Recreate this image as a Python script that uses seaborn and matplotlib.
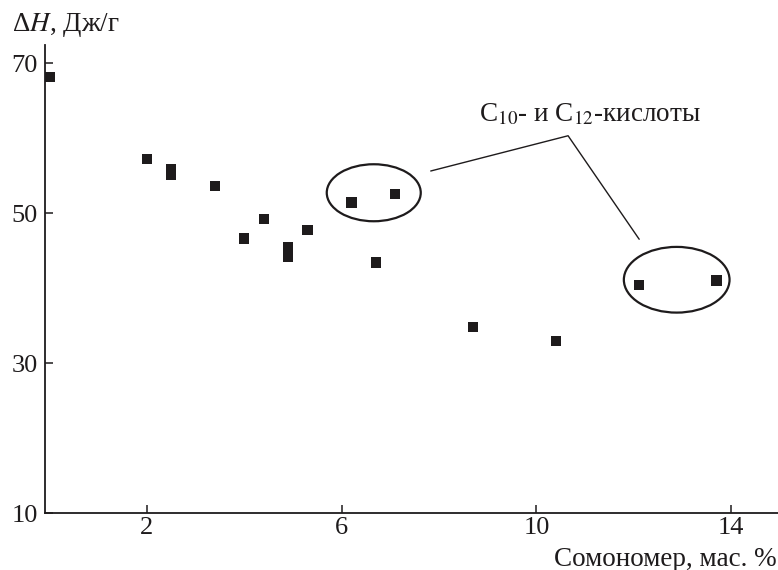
import matplotlib
matplotlib.use("Agg")
import matplotlib.pyplot as plt
import seaborn as sns
import pandas as pd
from matplotlib.patches import Ellipse

# data
comonomer = [0.0, 2.0, 2.5, 2.5, 3.4, 4.0, 4.4, 4.9, 4.9, 5.3, 6.2, 7.1, 6.7, 8.7, 10.4, 12.1, 13.7]
delta_h = [68.1, 57.2, 55.9, 55.1, 53.6, 46.6, 49.2, 45.5, 44.2, 47.7, 51.4, 52.5, 43.4, 34.8, 32.9, 40.4, 41.0]
x_ticks = [2, 6, 10, 14]
y_ticks = [10, 30, 50, 70]
annotation = "C$_{10}$- и C$_{12}$-кислоты"
x_label = "Сомономер, мас. %"
y_label = "Δ$H$, Дж/г"

sns.set_style("ticks")
plt.rcParams['font.family'] = ['Liberation Serif', 'DejaVu Serif']
plt.rcParams['mathtext.fontset'] = 'stix'

df = pd.DataFrame({"x": comonomer, "y": delta_h})

fig = plt.figure(figsize=(7.78, 5.70), dpi=100)
ax = fig.add_axes([45/778, (570-513)/570, (778-45)/778, (513-45)/570])

sns.scatterplot(data=df, x="x", y="y", marker="s", s=55, color="#1e1b1c",
                edgecolor="none", ax=ax, legend=False, zorder=3)

ax.set_xlim(-0.09, 14.96)
ax.set_ylim(10, 72.4)
ax.set_xticks(x_ticks)
ax.set_yticks(y_ticks)
ax.set_xticklabels([str(t) for t in x_ticks])
ax.set_yticklabels([str(t) for t in y_ticks])
ax.tick_params(direction="in", length=6, width=1.1, labelsize=19, colors="#1e1b1c")
ax.tick_params(axis="x", pad=3)
ax.tick_params(axis="y", pad=5)
for s in ["top", "right"]:
    ax.spines[s].set_visible(False)
for s in ["left", "bottom"]:
    ax.spines[s].set_linewidth(1.3)
    ax.spines[s].set_color("#1e1b1c")
ax.set_xlabel("")
ax.set_ylabel("")

fig.text(777/778, 1 - 559/570, x_label, ha="right", va="center", fontsize=19.5, color="#1e1b1c")
fig.text(12/778, 1 - 25/570, y_label, ha="left", va="center", fontsize=19.5, color="#1e1b1c")

# ellipses around C10/C12 points
ax.add_patch(Ellipse((6.66, 52.7), 1.93, 7.6, fill=False, lw=1.6, ec="#1e1b1c"))
ax.add_patch(Ellipse((12.88, 41.1), 2.17, 8.76, fill=False, lw=1.6, ec="#1e1b1c"))
ax.plot([7.83, 10.65, 12.11], [55.6, 60.3, 46.5], color="#1e1b1c", lw=1.0)
ax.text(11.1, 63.1, annotation, ha="center", va="center", fontsize=19.5, color="#1e1b1c")

fig.savefig("out.png", dpi=100)
